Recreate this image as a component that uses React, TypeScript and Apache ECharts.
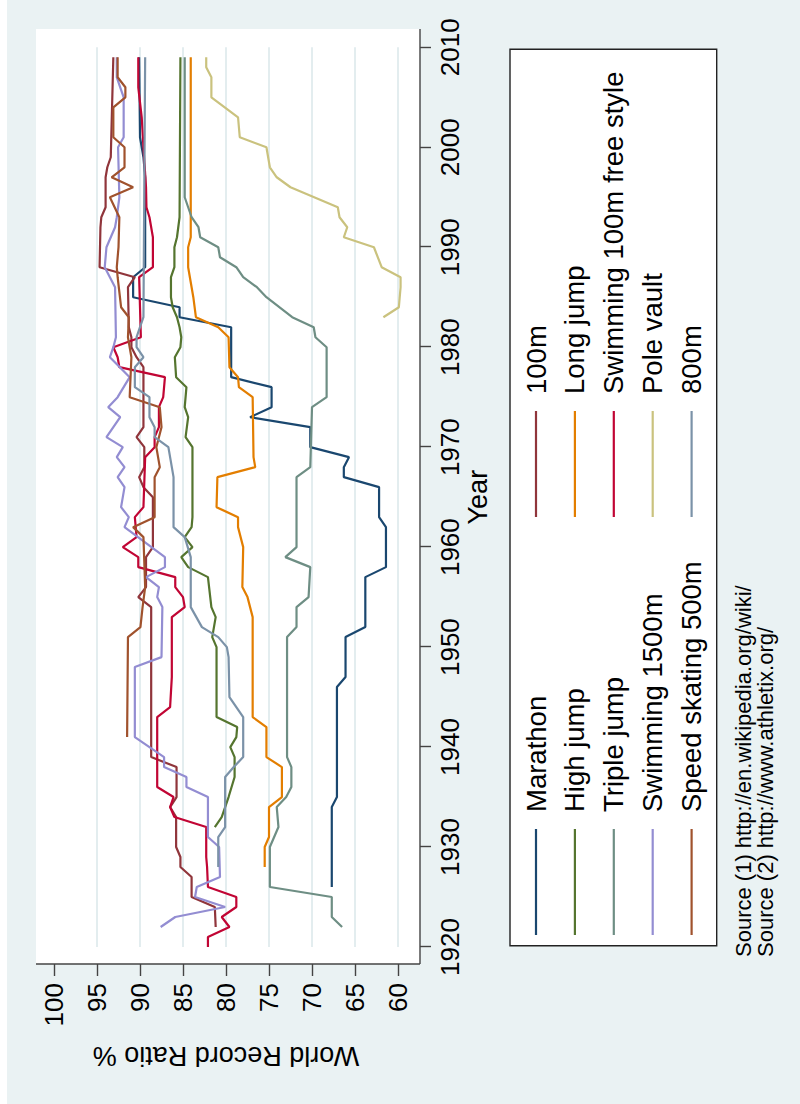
import React, { useEffect, useRef } from "react";
import * as echarts from "echarts";

// ---- data: [year, world record ratio %] ----
const marathon = [[1926,67.7],[1934,67.7],[1935,67.1],[1946,67.1],[1947,66.1],[1951,66.1],[1952,63.8],[1957,63.8],[1958,61.4],[1962,61.4],[1963,62.2],[1966,62.2],[1967,66.3],[1968,66.3],[1969,65.7],[1970,70.2],[1972,70.2],[1973,77.2],[1974,74.7],[1976,74.7],[1977,79.4],[1982,79.4],[1983,85.4],[1984,85.4],[1985,90.8],[1987,90.8],[1988,89.4],[1997,89.4],[1999,89.6],[2001,90.0],[2009,90.1]];
const m100 = [[1922,81.2],[1924,81.3],[1925,84.0],[1927,84.0],[1928,85.3],[1929,85.3],[1930,85.8],[1933,85.8],[1934,86.5],[1935,85.75],[1938,85.75],[1939,88.7],[1954,88.7],[1955,90.2],[1956,89.3],[1959,89.3],[1960,88.5],[1965,88.5],[1966,89.6],[1967,90.1],[1968,89.5],[1970,89.5],[1971,90.4],[1972,89.6],[1978,89.6],[1979,90.4],[1980,91.0],[1981,91.0],[1982,91.3],[1986,91.4],[1987,90.6],[1988,94.7],[1992,94.6],[1993,94.5],[1994,94.0],[1997,94.0],[1998,93.8],[1999,93.4],[2009,93.1]];
const highJump = [[1932,81.3],[1933,80.5],[1935,79.7],[1937,79.0],[1939,79.0],[1940,79.5],[1941,78.8],[1942,78.7],[1943,81.1],[1950,81.1],[1951,81.6],[1953,81.2],[1954,81.7],[1957,82.1],[1958,84.4],[1959,85.2],[1960,83.9],[1961,84.8],[1962,84.0],[1963,83.9],[1970,83.9],[1971,84.7],[1973,84.4],[1974,84.8],[1976,84.6],[1977,85.8],[1979,85.95],[1980,85.3],[1981,85.2],[1982,85.4],[1983,85.7],[1984,86.2],[1985,86.4],[1987,86.4],[1988,86.0],[1990,86.0],[1991,85.7],[1993,85.4],[2009,85.3]];
const longJump = [[1928,75.5],[1930,75.5],[1931,75.0],[1934,75.0],[1935,73.5],[1938,73.5],[1939,75.3],[1942,75.3],[1943,76.9],[1953,76.9],[1955,77.5],[1956,78.1],[1960,78.0],[1962,78.6],[1963,78.6],[1964,81.1],[1967,81.0],[1968,76.6],[1969,76.8],[1975,76.9],[1976,78.5],[1977,78.6],[1978,79.6],[1981,79.7],[1982,80.9],[1983,83.5],[1985,83.8],[1988,84.4],[1990,84.4],[1991,84.1],[2009,84.1]];
const tripleJump = [[1922,66.5],[1923,67.7],[1925,67.7],[1926,74.9],[1930,74.9],[1932,73.9],[1934,74.1],[1935,73.0],[1936,72.4],[1938,72.4],[1939,72.9],[1951,72.9],[1952,71.8],[1954,71.8],[1955,70.4],[1958,70.2],[1959,73.1],[1960,71.8],[1967,71.8],[1968,70.2],[1974,70.0],[1975,68.3],[1980,68.3],[1981,69.6],[1982,69.8],[1983,72.3],[1985,75.3],[1986,76.4],[1987,78.0],[1988,78.8],[1989,80.7],[1990,80.9],[1991,83.0],[1992,83.2],[1993,84.0],[1994,84.4],[1995,84.8],[2009,84.8]];
const swim100 = [[1920,82.1],[1921,82.1],[1922,79.6],[1923,80.5],[1924,78.8],[1925,78.8],[1926,82.1],[1928,82.2],[1929,82.3],[1932,82.3],[1933,86.0],[1934,86.5],[1935,86.1],[1936,88.0],[1943,88.0],[1944,86.5],[1947,86.3],[1953,86.3],[1954,84.8],[1955,85.0],[1956,85.9],[1957,85.9],[1958,90.2],[1959,90.2],[1960,92.0],[1961,90.4],[1963,90.6],[1964,89.6],[1969,89.4],[1970,88.3],[1971,88.3],[1972,87.8],[1974,87.8],[1975,87.3],[1977,87.1],[1978,92.4],[1979,92.6],[1980,93.1],[1981,89.9],[1987,90.1],[1988,88.5],[1991,88.5],[1993,88.9],[1994,89.25],[1996,89.3],[2000,89.6],[2003,89.8],[2006,90.2],[2009,90.2]];
const swim1500 = [[1922,87.6],[1923,85.9],[1924,80.1],[1925,83.6],[1926,83.4],[1927,80.7],[1930,80.8],[1931,82.1],[1935,82.1],[1936,84.6],[1937,84.6],[1938,87.2],[1939,87.2],[1941,90.6],[1948,90.6],[1949,87.5],[1954,87.4],[1955,88.0],[1956,87.8],[1957,89.3],[1958,87.1],[1959,87.1],[1962,91.8],[1963,91.3],[1964,92.2],[1965,92.0],[1966,91.8],[1967,92.6],[1968,91.8],[1969,92.7],[1970,92.0],[1971,93.9],[1973,92.3],[1974,93.7],[1975,92.6],[1977,91.2],[1979,93.5],[1980,93.1],[1981,92.8],[1986,92.9],[1988,94.1],[1990,93.9],[1992,92.9],[1993,92.7],[1995,92.4],[2000,92.55],[2001,91.9],[2005,91.9],[2007,92.7],[2009,92.7]];
const poleVault = [[1983,61.7],[1984,59.9],[1986,59.7],[1987,59.7],[1988,61.9],[1990,62.8],[1991,66.3],[1992,65.9],[1993,66.8],[1994,67.0],[1996,72.5],[1997,74.1],[1998,74.9],[2000,75.3],[2001,78.4],[2003,78.6],[2005,81.7],[2007,81.7],[2008,82.3],[2009,82.3]];
const skating500 = [[1941,91.5],[1951,91.4],[1952,89.95],[1954,89.7],[1956,89.4],[1961,89.6],[1962,90.8],[1963,88.3],[1967,88.3],[1968,87.7],[1970,88.1],[1972,87.5],[1974,87.7],[1975,91.2],[1979,91.0],[1981,91.4],[1983,91.3],[1984,92.2],[1987,92.6],[1988,92.7],[1990,92.5],[1993,92.4],[1995,93.5],[1996,90.8],[1997,93.3],[1998,91.8],[2000,91.8],[2001,93.1],[2004,93.1],[2005,91.7],[2006,91.7],[2007,92.6],[2009,92.6]];
const m800 = [[1928,80.9],[1931,80.9],[1932,80.1],[1937,80.1],[1938,79.1],[1939,78.0],[1943,78.0],[1945,79.6],[1949,79.7],[1950,79.9],[1951,80.9],[1952,82.8],[1954,84.1],[1959,84.1],[1961,84.8],[1962,86.1],[1967,86.1],[1970,86.7],[1971,88.3],[1972,88.3],[1973,88.9],[1975,88.9],[1976,90.6],[1978,90.6],[1979,89.6],[1980,90.4],[1981,90.4],[1982,90.0],[1983,89.6],[2009,89.4]];

const seriesNames = ["Marathon","100m","High jump","Long jump","Triple jump","Swimming 100m free style","Swimming 1500m","Pole vault","Speed skating 500m","800m"];
const seriesData = [marathon, m100, highJump, longJump, tripleJump, swim100, swim1500, poleVault, skating500, m800];
const seriesColors = ["#1a476f","#90353b","#55752f","#e37e00","#6e8e84","#c10534","#938dd2","#cac27e","#a0522d","#7b92a8"];
const legendCol1 = ["Marathon","High jump","Triple jump","Swimming 1500m","Speed skating 500m"];
const legendCol2 = ["100m","Long jump","Swimming 100m free style","Pole vault","800m"];
const sourceNote = "Source (1) http://en.wikipedia.org/wiki/\nSource (2) http://www.athletix.org/";

const FONT = "Liberation Sans, Arial, sans-serif";

export default function App() {
  const ref = useRef<HTMLDivElement>(null);
  useEffect(() => {
    document.body.style.margin = "0";
    const chart = echarts.init(ref.current!, undefined, { renderer: "svg", width: 1104, height: 793 });
    const legendBase = {
      orient: "vertical",
      top: 514,
      padding: 0,
      itemWidth: 106,
      itemHeight: 2.2,
      itemGap: 8.9,
      icon: "rect",
      selectedMode: false,
      textStyle: { fontFamily: FONT, fontSize: 27.5, color: "#000", lineHeight: 30, padding: [0, 0, 0, 12] },
    };
    chart.setOption({
      animation: false,
      backgroundColor: "#eaf2f3",
      grid: { left: 157, right: 47.3, top: 47, bottom: 402, containLabel: false },
      xAxis: {
        type: "value", min: 1920, max: 2010, interval: 10, position: "bottom", offset: 22,
        axisLine: { show: false },
        axisTick: { show: true, length: 11, lineStyle: { color: "#444", width: 1.4 } },
        axisLabel: { fontFamily: FONT, fontSize: 26, color: "#000", margin: 17, formatter: (v: number) => String(v) },
        splitLine: { show: false },
        name: "Year", nameLocation: "middle", nameGap: 44,
        nameTextStyle: { fontFamily: FONT, fontSize: 27, color: "#000" },
      },
      yAxis: {
        type: "value", min: 60, max: 100, interval: 5, position: "left", offset: 17,
        axisLine: { show: false },
        axisTick: { show: true, length: 12, lineStyle: { color: "#444", width: 1.4 } },
        axisLabel: { fontFamily: FONT, fontSize: 26, color: "#000", margin: 19, formatter: (v: number) => String(v) },
        splitLine: { show: true, lineStyle: { color: ["#e3edef","#e3edef","#e3edef","#e3edef","#e3edef","#e3edef","#e3edef","#e3edef","rgba(0,0,0,0)"], width: 2 } },
        name: "World Record Ratio %", nameLocation: "middle", nameGap: 78, nameRotate: 90,
        nameTextStyle: { fontFamily: FONT, fontSize: 27, color: "#000" },
      },
      legend: [
        { ...legendBase, left: 169, data: legendCol1 },
        { ...legendBase, left: 587, data: legendCol2 },
      ],
      graphic: [
        { type: "rect", z: -10, shape: { x: 140, y: 29, width: 935, height: 384 }, style: { fill: "#ffffff" } },
        { type: "line", z: 10, shape: { x1: 140, y1: 29, x2: 140, y2: 413 }, style: { stroke: "#444", lineWidth: 1.4 } },
        { type: "line", z: 10, shape: { x1: 140, y1: 413, x2: 1075, y2: 413 }, style: { stroke: "#444", lineWidth: 1.4 } },
        { type: "rect", z: -10, shape: { x: 158.3, y: 503, width: 896.4, height: 206.7 }, style: { fill: "#ffffff", stroke: "#222", lineWidth: 1.4 } },
        { type: "text", left: 147, top: 725, style: { text: sourceNote, font: `22px ${FONT}`, fill: "#000", lineHeight: 22 } },
      ],
      series: seriesNames.map((name, i) => ({
        name,
        type: "line",
        data: seriesData[i],
        showSymbol: false,
        symbol: "none",
        clip: false,
        color: seriesColors[i],
        lineStyle: { color: seriesColors[i], width: 2.2 },
      })),
    });
    return () => chart.dispose();
  }, []);
  return (
    <div style={{ position: "fixed", left: 0, top: 0, width: 800, height: 1104, background: "#ffffff", overflow: "hidden" }}>
      <div
        ref={ref}
        style={{
          position: "absolute", left: 0, top: 0, width: 1104, height: 793,
          transformOrigin: "0 0", transform: "translate(7px, 1104px) rotate(-90deg)",
        }}
      />
    </div>
  );
}
